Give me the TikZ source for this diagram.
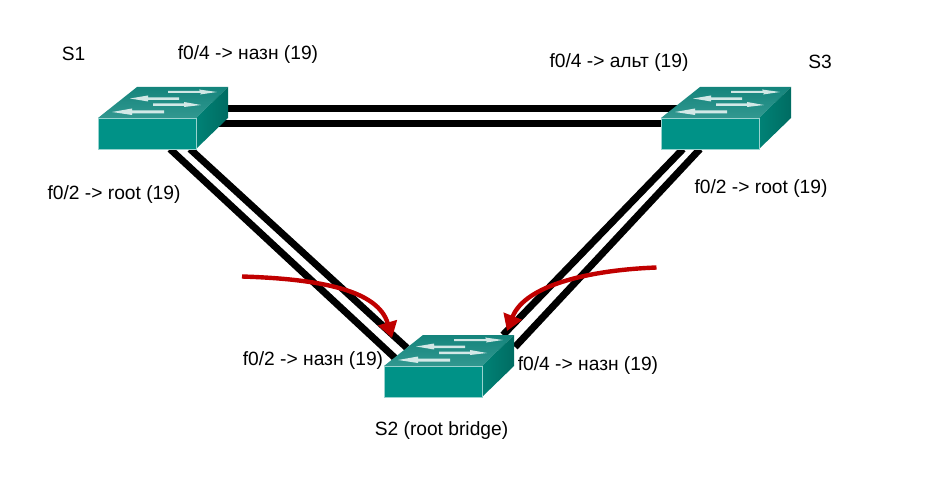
\documentclass[tikz,border=0pt]{standalone}
\usepackage{fontspec}
\setmainfont{Liberation Sans}
\usetikzlibrary{arrows.meta}
\definecolor{swfront}{RGB}{0,146,135}
\definecolor{swtopa}{RGB}{20,132,124}
\definecolor{swtopb}{RGB}{50,152,144}
\definecolor{swsidea}{RGB}{0,130,118}
\definecolor{swsideb}{RGB}{0,108,98}
\definecolor{redarc}{RGB}{192,0,0}
\tikzset{
  x=1pt,y=-1pt,
  lbl/.style={font=\fontsize{19.2}{21}\selectfont,text=black,inner sep=0pt,anchor=center},
  link/.style={draw=black,line width=7pt},
  flow/.style={draw=redarc,line width=4.4pt,-{Triangle[length=16pt,width=19pt]}},
  swarrow/.style={fill=white,draw=none,opacity=.8}
}
% #1 name, origin = top-left corner of the front face
\newcommand{\switchicon}[1]{%
  \begin{scope}[shift={(#1)}]
    \fill[swfront] (0,0) rectangle (98,31);
    \shade[bottom color=swtopb,top color=swtopa,shading angle=0] (0,0) -- (39,-31) -- (130,-31) -- (98,0) -- cycle;
    \shade[left color=swsidea,right color=swsideb] (98,0) -- (130,-31) -- (130,0) -- (98,31) -- cycle;
    \draw[white!60!swfront,line width=.6pt] (0,31) -- (0,0) -- (98,0) -- (98,31) -- cycle;
    \fill[swarrow] (70,-27) -- (102,-27) -- (101,-28.5) -- (119,-26) -- (102,-23.5) -- (103,-25) -- (70,-25) -- cycle;
    \fill[swarrow] (81,-20.5) -- (50,-20.5) -- (50,-22.5) -- (32,-19.5) -- (50,-16.5) -- (50,-18) -- (81,-18) -- cycle;
    \fill[swarrow] (55,-14.5) -- (86,-14.5) -- (86,-16) -- (103,-13) -- (86,-11) -- (86,-12) -- (55,-12) -- cycle;
    \fill[swarrow] (66,-7.5) -- (34,-7.5) -- (34,-9.5) -- (14,-6) -- (34,-3) -- (34,-4.5) -- (66,-4.5) -- cycle;
  \end{scope}}
\begin{document}
\begin{tikzpicture}
\useasboundingbox (0,0) rectangle (934,478);
\coordinate (S1) at (98,118);
\coordinate (S2) at (384,366);
\coordinate (S3) at (661,118);
\coordinate (s1h1) at (215,109); \coordinate (s3h1) at (685,109);
\coordinate (s1h2) at (205,124); \coordinate (s3h2) at (670,124);
\coordinate (s1d1) at (190,149); \coordinate (s2d1) at (407,348);
\coordinate (s1d2) at (170,149); \coordinate (s2d2) at (395,358);
\coordinate (s3d1) at (683,149); \coordinate (s2e1) at (503,335);
\coordinate (s3d2) at (700,149); \coordinate (s2e2) at (515,347);
\draw[link] (s1h1) -- (s3h1);
\draw[link] (s1h2) -- (s3h2);
\draw[link] (s1d1) -- (s2d1);
\draw[link] (s1d2) -- (s2d2);
\draw[link] (s3d1) -- (s2e1);
\draw[link] (s3d2) -- (s2e2);
\switchicon{S1}
\switchicon{S3}
\switchicon{S2}
\coordinate (fa0) at (242,276.5); \coordinate (fa1) at (392,338);
\coordinate (fb0) at (656.5,267.5); \coordinate (fb1) at (507,331);
\draw[flow] (fa0) .. controls (320,279) and (378,290) .. (fa1);
\draw[flow] (fb0) .. controls (590,270) and (525,285) .. (fb1);
\node[lbl] (ls1) at (73.5,53.5) {S1};
\node[lbl] (ls3) at (820,62) {S3};
\node[lbl] (a) at (248,54.5) {f0/4 -> назн (19)};
\node[lbl] (b) at (619,62.5) {f0/4 -> альт (19)};
\node[lbl] (c) at (114,194.5) {f0/2 -> root (19)};
\node[lbl] (d) at (761,188.5) {f0/2 -> root (19)};
\node[lbl] (e) at (313,360.5) {f0/2 -> назн (19)};
\node[lbl] (f) at (588,365.5) {f0/4 -> назн (19)};
\node[lbl] (g) at (441.5,430.5) {S2 (root bridge)};
\end{tikzpicture}
\end{document}
